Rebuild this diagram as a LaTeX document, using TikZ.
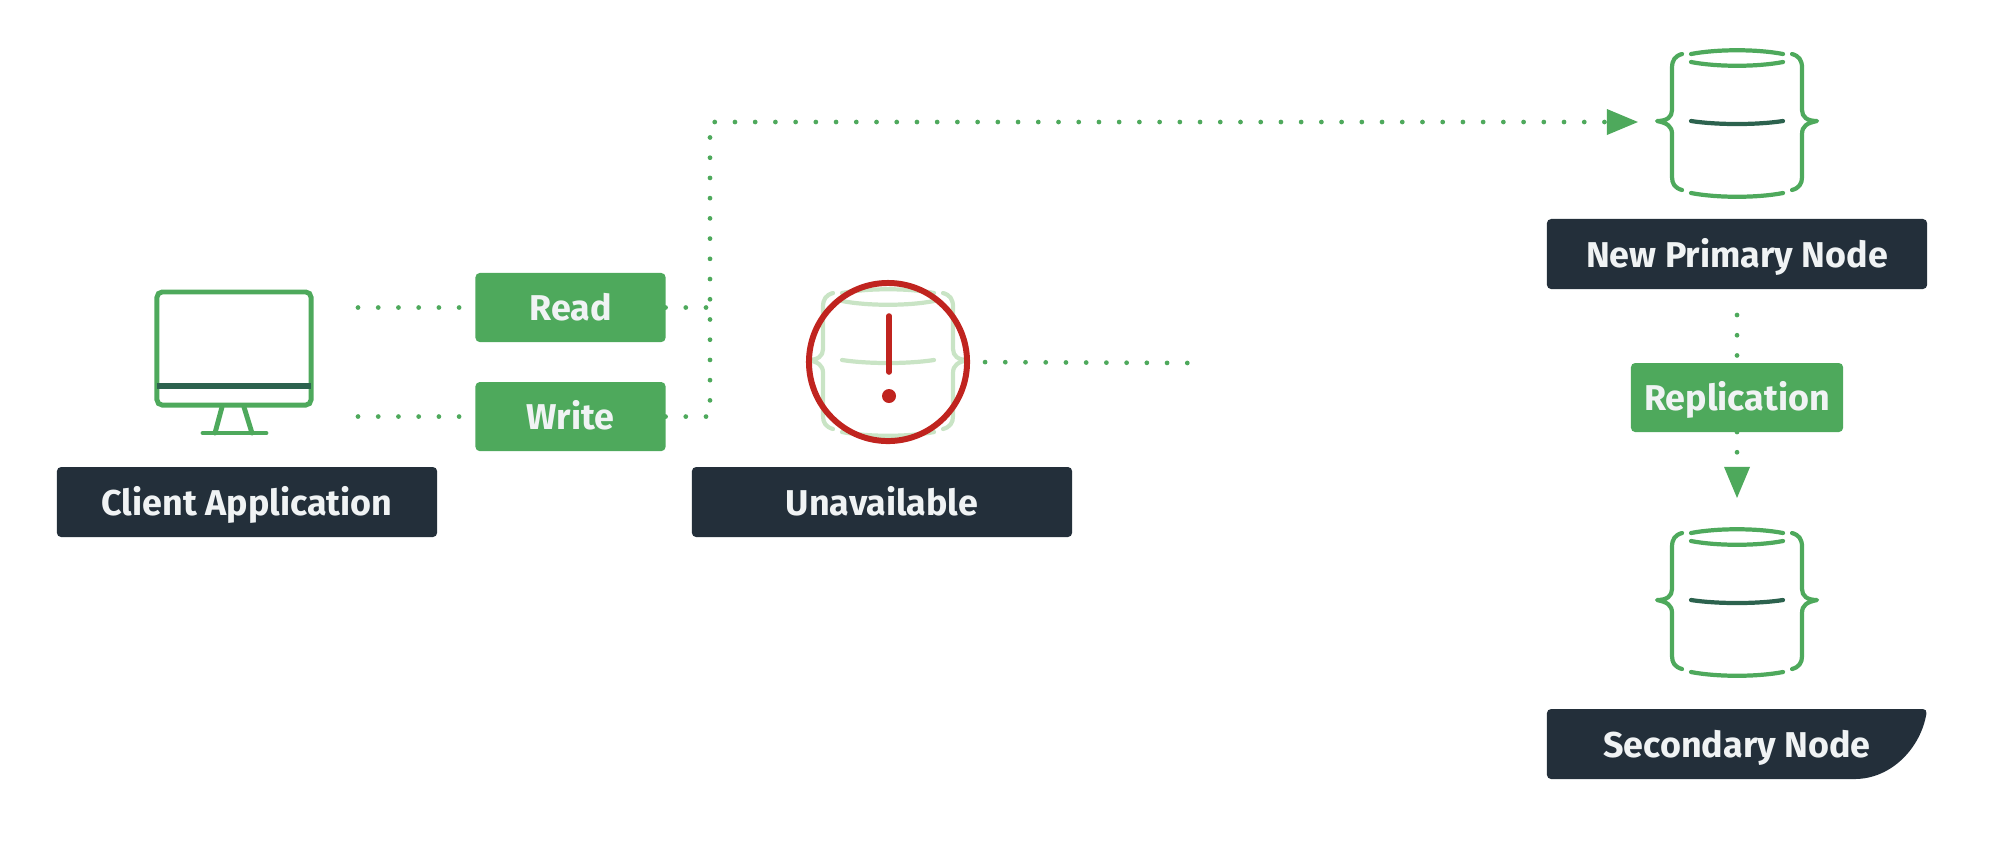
\documentclass[tikz,border=0pt]{standalone}
\usepackage{fontspec}
\setmainfont{Fira Sans}
\usepackage{tikz}
\usetikzlibrary{arrows.meta,positioning,calc,backgrounds}
\usepackage{xcolor}
\definecolor{nodegreen}{RGB}{78,169,92}
\definecolor{bargreen}{RGB}{44,98,78}
\definecolor{fadegreen}{RGB}{201,228,197}
\definecolor{labeldark}{RGB}{35,47,58}
\definecolor{labeltext}{RGB}{240,243,244}
\definecolor{alertred}{RGB}{192,36,31}

\newcommand{\dbicon}[3]{%
  \begin{scope}[shift={(#1)}, line width=1.2pt, line cap=round, line join=round, draw=#2]
    \foreach \side in {1,-1} {
      \draw[xscale=\side] (-55,-68) .. controls (-62,-66) and (-65,-62) .. (-65,-54) -- (-65,-12)
        .. controls (-65,-5) and (-70,-1) .. (-80,-1) .. controls (-70,1) and (-65,4) .. (-65,12)
        -- (-65,55) .. controls (-65,62) and (-62,66) .. (-55,68);
    }
    \draw (-46,-68) .. controls (-20,-73) and (20,-73) .. (46,-68);
    \draw (-46,-60) .. controls (-20,-55) and (20,-55) .. (46,-60);
    \draw[draw=#3] (-46,-1) .. controls (-20,3) and (20,3) .. (46,-1);
    \draw (-46,71) .. controls (-20,76) and (20,76) .. (46,71);
  \end{scope}
}

\begin{document}
\begin{tikzpicture}[
    x=0.01cm, y=-0.01cm,
    labelbox/.style={fill=labeldark, text=labeltext, rounded corners=1.2pt, minimum width=3.8cm, minimum height=0.7cm, inner sep=0pt, outer sep=0pt, text height=8.8pt, text depth=1.2pt, font=\fontsize{10.2}{12}\selectfont\bfseries},
    actionbox/.style={fill=nodegreen, text=labeltext, rounded corners=1.2pt, minimum width=1.9cm, minimum height=0.69cm, inner sep=0pt, outer sep=0pt, text height=8.8pt, text depth=1.2pt, font=\fontsize{10.2}{12}\selectfont\bfseries},
    iconspot/.style={minimum width=1.98cm, minimum height=2.06cm, inner sep=0pt, outer sep=0pt},
    dotline/.style={draw=nodegreen, line width=1.35pt, line cap=round, dash pattern=on 0pt off 5.75pt},
    arrow/.style={dotline, -{Triangle[length=0.31cm, width=0.26cm, line width=0pt]}},
    iconline/.style={draw=nodegreen, line width=1.4pt}
]
\useasboundingbox (0,0) rectangle (2016,844);

\node[labelbox] (client) at (247,502) {Client Application};
\node[labelbox] (unavailable) at (882,502) {Unavailable};
\node[actionbox] (read) at (570.5,307.5) {Read};
\node[actionbox, below=0.4cm of read] (write) {Write};
\node[labelbox] (newprimary) at (1737,254) {New Primary Node};
\node[actionbox, minimum width=2.12cm] (replication) at (1737,397.5) {Replication};
\node[labelbox, fill=none] (secondary) at (1737,744) {Secondary Node};

\begin{scope}[on background layer]
  \fill[labeldark, rounded corners=1.2pt] (secondary.south west) -- (secondary.north west) -- (secondary.north east) .. controls ([shift={(-6,38)}]secondary.north east) and ([shift={(-35,0)}]secondary.south east) .. ([shift={(-77,0)}]secondary.south east) -- cycle;
\end{scope}

\node[iconspot] (primaryicon) at (1737,122) {};
\node[iconspot] (secondaryicon) at (1737,601) {};
\node[draw=alertred, circle, line width=1.7pt, minimum size=1.58cm, inner sep=0pt, outer sep=0pt] (alert) at (888,362) {};

\dbicon{primaryicon}{nodegreen}{bargreen}
\dbicon{secondaryicon}{nodegreen}{bargreen}
\begin{scope}[on background layer]
  \dbicon{888,361}{fadegreen}{fadegreen}
\end{scope}

\draw[draw=alertred, line width=1.6pt, line cap=round] (889,316) -- (889,372);
\fill[alertred] (889,396) circle (0.07cm);

\node[draw=nodegreen, line width=1.4pt, rounded corners=1.5pt, minimum width=1.54cm, minimum height=1.13cm, inner sep=0pt, outer sep=0pt] (screen) at (234,348.5) {};
\draw[draw=bargreen, line width=1.5pt] (157,386) -- (311,386);
\draw[iconline, line cap=round] (222,407) -- (215,433);
\draw[iconline, line cap=round] (244,407) -- (252,433);
\draw[iconline, line cap=round] (203,433) -- (266,433);

\coordinate (readstart) at (358,307.5);
\coordinate (writestart) at (358,416.5);
\coordinate (turn) at (710,122);
\coordinate (replstart) at (1737,315);
\coordinate (lostend) at (1194,363);

\draw[dotline] (readstart) -- (read.west);
\draw[dotline] (writestart) -- (write.west);
\draw[dotline] (read.east) -- (read.east -| turn);
\draw[arrow] (write.east) -| (turn) -- (primaryicon.west);
\draw[dotline, shorten <=0.18cm] (alert.east) -- (lostend);
\draw[dotline] (replstart) -- (replication.north);
\draw[arrow] (replication.south) -- (secondaryicon.north);

\end{tikzpicture}
\end{document}
